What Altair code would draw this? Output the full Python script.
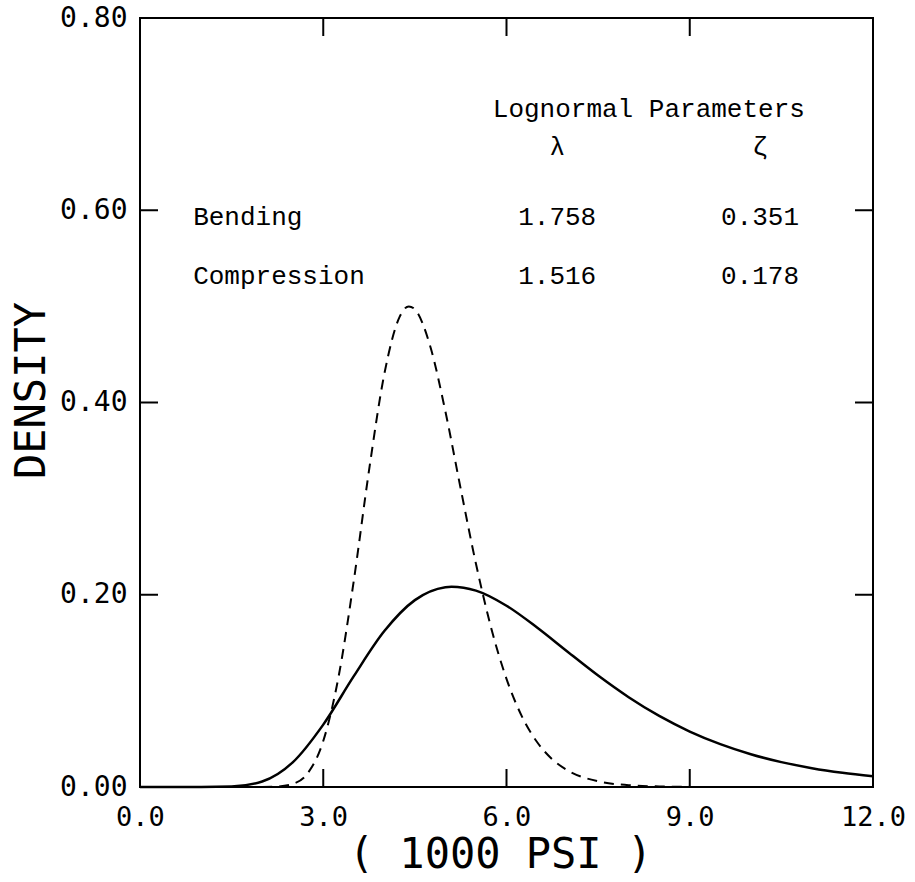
import altair as alt
import pandas as pd

# Bending (solid) curve
bend_x = [0.0, 0.5, 1.0, 1.5, 2.0, 2.5, 3.0, 3.5, 4.0, 4.5, 5.0, 5.1, 5.5, 6.0, 6.5, 7.0,
          7.5, 8.0, 8.5, 9.0, 9.5, 10.0, 10.5, 11.0, 11.5, 12.0]
bend_y = [0.0, 0.0, 0.0, 0.0005, 0.0057, 0.0256, 0.0649, 0.1153, 0.1622, 0.1944, 0.2078, 0.2083,
          0.2043, 0.1886, 0.1659, 0.1407, 0.1159, 0.0934, 0.0739, 0.0577, 0.0446, 0.0341,
          0.0259, 0.0196, 0.0148, 0.0111]

# Compression (dashed) curve
comp_x = [2.0, 2.25, 2.5, 2.75, 3.0, 3.25, 3.5, 3.75, 4.0, 4.25, 4.4, 4.5, 4.75, 5.0, 5.25,
          5.5, 5.75, 6.0, 6.25, 6.5, 6.75, 7.0, 7.5, 8.0, 8.5, 9.0]
comp_y = [0.0, 0.0004, 0.0031, 0.0147, 0.0478, 0.1145, 0.2146, 0.3296, 0.4297, 0.4891, 0.5000,
          0.4969, 0.4588, 0.3906, 0.3103, 0.2323, 0.1652, 0.1125, 0.0737, 0.0468, 0.0288,
          0.0173, 0.0059, 0.0019, 0.0006, 0.0002]

x_ticks = [0.0, 3.0, 6.0, 9.0, 12.0]
y_ticks = [0.0, 0.2, 0.4, 0.6, 0.8]
x_inner_ticks = [3.0, 6.0, 9.0]
y_inner_ticks = [0.2, 0.4, 0.6]

# table text (centered entries)
ann_text = ["Lognormal Parameters", "λ", "ζ", "1.758", "0.351", "1.516", "0.178"]
ann_x = [8.33, 6.83, 10.15, 6.83, 10.15, 6.83, 10.15]
ann_y = [0.705, 0.666, 0.666, 0.593, 0.593, 0.532, 0.532]
# row labels (left aligned)
row_text = ["Bending", "Compression"]
row_x = [0.87, 0.87]
row_y = [0.593, 0.532]

W, H = 733, 769
TICK = 18

bend = pd.DataFrame({"x": bend_x, "y": bend_y})
comp = pd.DataFrame({"x": comp_x, "y": comp_y})
xt = pd.DataFrame({"t": x_inner_ticks})
yt = pd.DataFrame({"t": y_inner_ticks})
ann = pd.DataFrame({"x": ann_x, "y": ann_y, "text": ann_text})
rows = pd.DataFrame({"x": row_x, "y": row_y, "text": row_text})

xscale = alt.Scale(domain=[0, 12], nice=False, zero=False)
yscale = alt.Scale(domain=[0, 0.8], nice=False, zero=False)

xaxis = alt.Axis(values=x_ticks, format=".1f", title="( 1000 PSI )", ticks=False,
                 domain=False, grid=False, labelPadding=17, titlePadding=4,
                 labelFont="DejaVu Sans Mono", labelFontSize=27, labelColor="black",
                 titleFont="DejaVu Sans Mono", titleFontSize=42, titleFontWeight="normal",
                 titleColor="black", labelFlush=False, titleX=360)
yaxis = alt.Axis(values=y_ticks, format=".2f", title="DENSITY", ticks=False,
                 domain=False, grid=False, labelPadding=13, titlePadding=6,
                 labelFont="DejaVu Sans Mono", labelFontSize=28, labelColor="black",
                 titleFont="DejaVu Sans Mono", titleFontSize=42, titleFontWeight="normal",
                 titleColor="black", labelFlush=False, titleY=372)

bend_line = alt.Chart(bend).mark_line(color="black", strokeWidth=2.5, interpolate="monotone").encode(
    x=alt.X("x:Q", scale=xscale, axis=xaxis),
    y=alt.Y("y:Q", scale=yscale, axis=yaxis),
)
comp_line = alt.Chart(comp).mark_line(color="black", strokeWidth=2, strokeDash=[10, 7],
                                      interpolate="monotone").encode(
    x=alt.X("x:Q", scale=xscale),
    y=alt.Y("y:Q", scale=yscale),
)

bottom_ticks = alt.Chart(xt).mark_rule(color="black", strokeWidth=2).encode(
    x=alt.X("t:Q", scale=xscale), y=alt.value(H), y2=alt.value(H - TICK))
top_ticks = alt.Chart(xt).mark_rule(color="black", strokeWidth=2).encode(
    x=alt.X("t:Q", scale=xscale), y=alt.value(0), y2=alt.value(TICK))
left_ticks = alt.Chart(yt).mark_rule(color="black", strokeWidth=2).encode(
    y=alt.Y("t:Q", scale=yscale), x=alt.value(0), x2=alt.value(TICK))
right_ticks = alt.Chart(yt).mark_rule(color="black", strokeWidth=2).encode(
    y=alt.Y("t:Q", scale=yscale), x=alt.value(W), x2=alt.value(W - TICK))

text_center = alt.Chart(ann).mark_text(font="Liberation Mono", fontSize=26, color="black",
                                       baseline="middle", align="center").encode(
    x=alt.X("x:Q", scale=xscale),
    y=alt.Y("y:Q", scale=yscale),
    text="text:N",
)
text_left = alt.Chart(rows).mark_text(font="Liberation Mono", fontSize=26, color="black",
                                      baseline="middle", align="left").encode(
    x=alt.X("x:Q", scale=xscale),
    y=alt.Y("y:Q", scale=yscale),
    text="text:N",
)

chart = alt.layer(bend_line, comp_line, bottom_ticks, top_ticks, left_ticks, right_ticks,
                  text_center, text_left).properties(
    width=W, height=H,
    padding={"left": 140, "top": 18, "right": 42, "bottom": 95},
    autosize=alt.AutoSizeParams(type="none"),
    background="white",
).configure_view(stroke="black", strokeWidth=2)

chart.save("out.html", embed_options={"renderer": "svg", "actions": False})
